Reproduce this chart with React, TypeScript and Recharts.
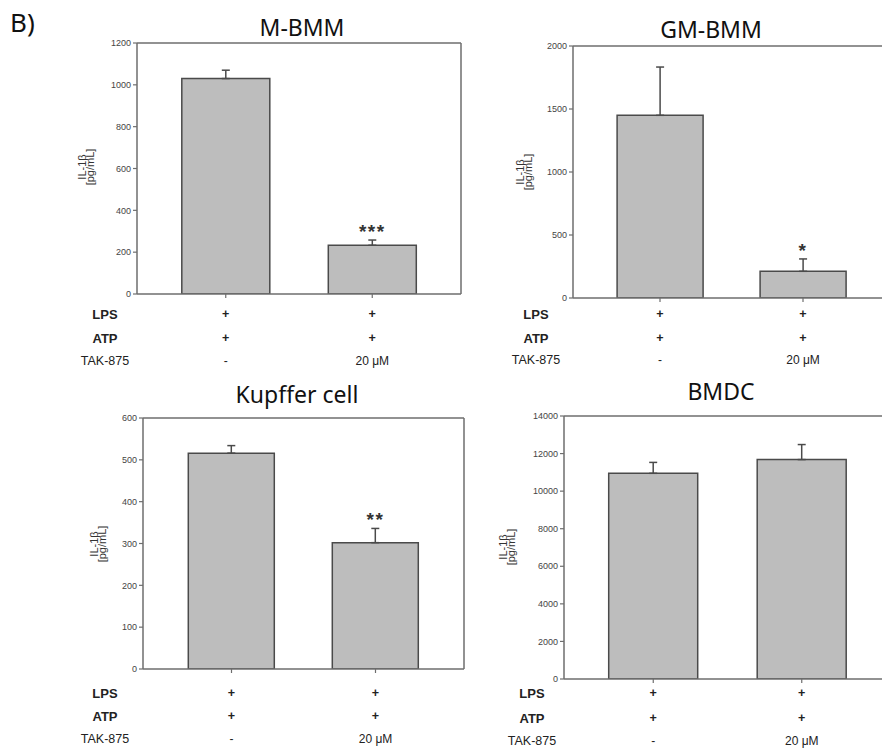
import React from 'react';
import { BarChart, Bar, XAxis, YAxis, ErrorBar, ReferenceDot } from 'recharts';

// ---------- data ----------
const categories = ['LPS+ATP', 'LPS+ATP+TAK-875'];
const rowHeaders = ['LPS', 'ATP', 'TAK-875'];
const lpsRow = ['+', '+'];
const atpRow = ['+', '+'];
const takRow = ['-', '20 μM'];
const yAxisLabel = ['IL-1β', '[pg/mL]'];

const mbmmTitle = 'M-BMM';
const mbmmValues = [1030, 233];
const mbmmErrors = [40, 25];
const mbmmStars = ['', '***'];
const mbmmTicks = [0, 200, 400, 600, 800, 1000, 1200];

const gmbmmTitle = 'GM-BMM';
const gmbmmValues = [1450, 212];
const gmbmmErrors = [383, 98];
const gmbmmStars = ['', '*'];
const gmbmmTicks = [0, 500, 1000, 1500, 2000];

const kupfferTitle = 'Kupffer cell';
const kupfferValues = [516, 302];
const kupfferErrors = [18, 34];
const kupfferStars = ['', '**'];
const kupfferTicks = [0, 100, 200, 300, 400, 500, 600];

const bmdcTitle = 'BMDC';
const bmdcValues = [10950, 11680];
const bmdcErrors = [580, 800];
const bmdcStars = ['', ''];
const bmdcTicks = [0, 2000, 4000, 6000, 8000, 10000, 12000, 14000];

// ---------- layout / style ----------
const CW = 900;
const CH = 751;
const YW = 40;
const XH = 10;
const AXIS = '#6e6e6e';
const BAR_STROKE = '#4a4a4a';
const BAR_FILL = '#bdbdbd';
const SANS = '"Liberation Sans", Arial, sans-serif';
const TITLE_FONT = '"Noto Sans", "Open Sans", sans-serif';

type Panel = {
  title: string;
  values: number[];
  errors: number[];
  stars: string[];
  ticks: number[];
  L: number; R: number; T: number; B: number;
  pad: number;
  rows: number[];
  headerX: number;
  titleX: number; titleY: number;
  labelX: [number, number]; labelY: number;
};

const panels: Panel[] = [
  {
    title: mbmmTitle, values: mbmmValues, errors: mbmmErrors, stars: mbmmStars, ticks: mbmmTicks,
    L: 137, R: 461, T: 43, B: 294, pad: 15.5,
    rows: [314, 338, 361], headerX: 105, titleX: 302, titleY: 36,
    labelX: [82, 90], labelY: 167,
  },
  {
    title: gmbmmTitle, values: gmbmmValues, errors: gmbmmErrors, stars: gmbmmStars, ticks: gmbmmTicks,
    L: 573, R: 890, T: 46, B: 298, pad: 15.5,
    rows: [314, 338, 360], headerX: 536, titleX: 711, titleY: 38,
    labelX: [520, 528], labelY: 172,
  },
  {
    title: kupfferTitle, values: kupfferValues, errors: kupfferErrors, stars: kupfferStars, ticks: kupfferTicks,
    L: 143, R: 464, T: 418, B: 669, pad: 16.5,
    rows: [693, 716, 739], headerX: 105, titleX: 297, titleY: 403,
    labelX: [94, 102], labelY: 544,
  },
  {
    title: bmdcTitle, values: bmdcValues, errors: bmdcErrors, stars: bmdcStars, ticks: bmdcTicks,
    L: 564, R: 891, T: 416, B: 679, pad: 15,
    rows: [693, 718, 741], headerX: 532, titleX: 721, titleY: 400,
    labelX: [503, 511], labelY: 547,
  },
];

function PanelChart({ cfg }: { cfg: Panel }) {
  const data = categories.map((c, i) => ({
    cat: c,
    value: cfg.values[i],
    err: [0, cfg.errors[i]],
    top: cfg.values[i] + cfg.errors[i],
    star: cfg.stars[i],
  }));
  const yMax = cfg.ticks[cfg.ticks.length - 1];

  const renderTick = (props: any) => {
    const { x, payload } = props;
    const i = categories.indexOf(payload.value);
    return (
      <g>
        <text x={x} y={cfg.rows[0]} textAnchor="middle" dominantBaseline="central" fontSize={12.5} fontWeight="bold" fontFamily={SANS} fill="#222">{lpsRow[i]}</text>
        <text x={x} y={cfg.rows[1]} textAnchor="middle" dominantBaseline="central" fontSize={12.5} fontWeight="bold" fontFamily={SANS} fill="#222">{atpRow[i]}</text>
        <text x={x} y={cfg.rows[2]} textAnchor="middle" dominantBaseline="central" fontSize={12} fontFamily={SANS} fill="#222">{takRow[i]}</text>
      </g>
    );
  };

  return (
    <div style={{ position: 'absolute', left: 0, top: 0 }}>
      <BarChart
        width={CW}
        height={CH}
        data={data}
        margin={{ top: cfg.T, right: CW - cfg.R, bottom: CH - cfg.B - XH, left: cfg.L - YW }}
        barCategoryGap="20%"
      >
        <XAxis
          dataKey="cat"
          type="category"
          padding={{ left: cfg.pad, right: cfg.pad }}
          height={XH}
          interval={0}
          tickSize={4}
          tick={renderTick}
          axisLine={{ stroke: AXIS, strokeWidth: 1.5 }}
          tickLine={{ stroke: AXIS, strokeWidth: 1.2 }}
        />
        <YAxis
          type="number"
          domain={[0, yMax]}
          ticks={cfg.ticks}
          interval={0}
          width={YW}
          tickSize={4}
          tickMargin={2}
          allowDataOverflow
          tick={{ fontSize: 9, fill: '#444', fontFamily: SANS }}
          axisLine={{ stroke: AXIS, strokeWidth: 1.5 }}
          tickLine={{ stroke: AXIS, strokeWidth: 1.2 }}
        />
        <Bar dataKey="value" fill={BAR_FILL} stroke={BAR_STROKE} strokeWidth={1.5} isAnimationActive={false}>
          <ErrorBar dataKey="err" width={4} stroke={BAR_STROKE} strokeWidth={1.5} direction="y" isAnimationActive={false} />
        </Bar>
        {data
          .filter((d) => d.star)
          .map((d) => (
            <ReferenceDot
              key={d.cat}
              x={d.cat}
              y={d.top}
              r={0}
              fill="none"
              stroke="none"
              ifOverflow="visible"
              label={{ value: d.star, position: 'top', offset: 2, fontSize: 19, fontWeight: 'bold', fill: '#333', fontFamily: SANS, letterSpacing: 1.5 }}
            />
          ))}
      </BarChart>
    </div>
  );
}

export default function App() {
  return (
    <div style={{ position: 'absolute', left: 0, top: 0, width: 882, height: 751, overflow: 'hidden', background: '#fff' }}>
      {panels.map((p) => (
        <PanelChart key={p.title} cfg={p} />
      ))}
      <svg width={882} height={751} style={{ position: 'absolute', left: 0, top: 0, pointerEvents: 'none' }}>
        <text x={10} y={32} fontSize={26} fontFamily={TITLE_FONT} fill="#111">B)</text>
        {panels.map((p) => (
          <g key={p.title}>
            <line x1={p.L} y1={p.T} x2={p.R} y2={p.T} stroke={AXIS} strokeWidth={1.5} />
            <line x1={p.R} y1={p.T} x2={p.R} y2={p.B} stroke={AXIS} strokeWidth={1.5} />
            <text x={p.titleX} y={p.titleY} textAnchor="middle" fontSize={23} fontFamily={TITLE_FONT} fill="#111">{p.title}</text>
            <text x={p.headerX} y={p.rows[0]} textAnchor="middle" dominantBaseline="central" fontSize={13} fontWeight="bold" fontFamily={SANS} fill="#222">{rowHeaders[0]}</text>
            <text x={p.headerX} y={p.rows[1]} textAnchor="middle" dominantBaseline="central" fontSize={13} fontWeight="bold" fontFamily={SANS} fill="#222">{rowHeaders[1]}</text>
            <text x={p.headerX} y={p.rows[2]} textAnchor="middle" dominantBaseline="central" fontSize={12.5} fontFamily={SANS} fill="#222">{rowHeaders[2]}</text>
            <text transform={`translate(${p.labelX[0]},${p.labelY}) rotate(-90)`} textAnchor="middle" dominantBaseline="central" fontSize={11} fontFamily={SANS} fill="#333">{yAxisLabel[0]}</text>
            <text transform={`translate(${p.labelX[1]},${p.labelY}) rotate(-90)`} textAnchor="middle" dominantBaseline="central" fontSize={11} fontFamily={SANS} fill="#333">{yAxisLabel[1]}</text>
          </g>
        ))}
      </svg>
    </div>
  );
}
